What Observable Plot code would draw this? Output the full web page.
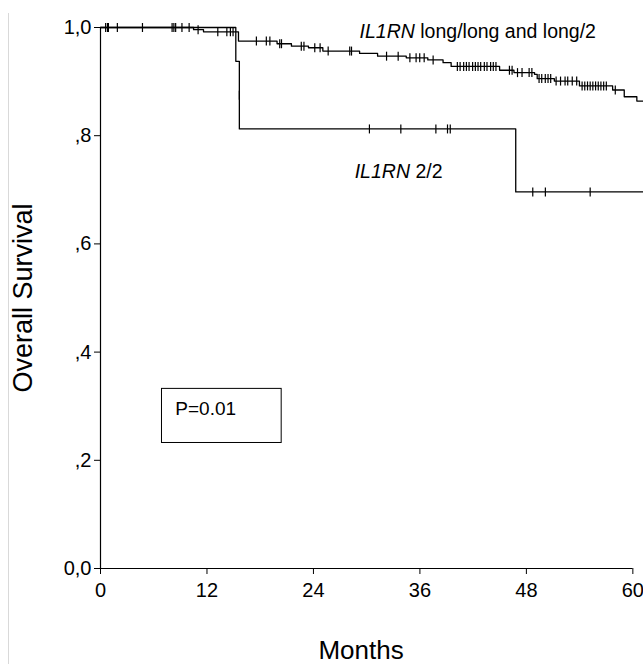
<!DOCTYPE html>
<html><head><meta charset="utf-8">
<script src="https://cdn.jsdelivr.net/npm/d3@7"></script>
<script src="https://cdn.jsdelivr.net/npm/@observablehq/plot@0.6"></script>
<style>
body{margin:0;background:#fff;}
#wrap{position:relative;width:643px;height:664px;overflow:hidden;background:#fff;}
#edge{position:absolute;left:8px;top:13px;width:1px;height:651px;background:#d9d9d9;}
#wrap svg{position:absolute;left:0;top:0;}
</style></head><body><div id="wrap"><div id="edge"></div></div>
<script>
// Axis ticks
const monthTicks = [0, 12, 24, 36, 48, 60];
const survivalTicks = [0, 0.2, 0.4, 0.6, 0.8, 1.0];
const survivalTickLabels = ["0,0", ",2", ",4", ",6", ",8", "1,0"];

// IL1RN long/long and long/2 : step curve
const longMonths   = [0, 10.49, 11.61, 15.55, 19.90, 21.52, 23.44, 25.06, 29.20, 31.23, 34.46, 36.89, 38.61, 39.52, 44.98, 46.60, 48.92, 49.22, 51.15, 53.98, 57.72, 59.03, 60.45, 61.2];
const longSurvival = [1, 0.996, 0.992, 0.975, 0.970, 0.9655, 0.9626, 0.9564, 0.952, 0.947, 0.944, 0.940, 0.935, 0.928, 0.921, 0.9166, 0.9134, 0.9055, 0.901, 0.892, 0.8845, 0.872, 0.864, 0.864];
// censored observations
const longCensorMonths = [0.58, 0.79, 0.89, 1.90, 4.73, 8.07, 8.27, 8.47, 9.18, 9.99,
  11.00, 13.22, 14.24, 14.64, 14.94, 17.57, 18.69, 19.09, 20.20, 20.40, 22.63, 22.93, 24.15, 24.75,
  25.66, 28.09, 28.29, 32.24, 33.55, 34.87, 35.57, 35.98, 36.48, 37.49,
  40.22, 40.53, 40.93, 41.24, 41.54, 41.94, 42.25, 42.55, 42.85, 43.26, 43.56, 43.97, 44.27, 44.57,
  46.09, 46.39, 47.00, 47.51, 48.31, 48.62, 49.43, 49.73, 50.13, 50.44, 50.74,
  51.35, 51.85, 52.36, 52.66, 53.17, 53.67, 54.28, 54.58, 54.89, 55.19, 55.49, 55.80, 56.10, 56.40, 56.71, 57.01, 58.02];
const longCensorSurvival = [1, 1, 1, 1, 1, 1, 1, 1, 1, 1,
  0.996, 0.992, 0.992, 0.992, 0.992, 0.975, 0.975, 0.975, 0.970, 0.970, 0.9655, 0.9655, 0.9626, 0.9626,
  0.9564, 0.9564, 0.9564, 0.947, 0.947, 0.944, 0.944, 0.944, 0.944, 0.940,
  0.928, 0.928, 0.928, 0.928, 0.928, 0.928, 0.928, 0.928, 0.928, 0.928, 0.928, 0.928, 0.928, 0.928,
  0.921, 0.921, 0.9166, 0.9166, 0.9166, 0.9166, 0.9055, 0.9055, 0.9055, 0.9055, 0.9055,
  0.901, 0.901, 0.901, 0.901, 0.901, 0.901, 0.892, 0.892, 0.892, 0.892, 0.892, 0.892, 0.892, 0.892, 0.892, 0.892, 0.8845];

// IL1RN 2/2 : step curve
const homoMonths   = [0, 15.25, 15.65, 15.65, 46.80, 61.2];
const homoSurvival = [1, 0.9375, 0.875, 0.8125, 0.696, 0.696];
const homoCensorMonths   = [15.65, 30.31, 33.85, 37.80, 39.11, 39.42, 48.72, 50.14, 55.19];
const homoCensorSurvival = [0.875, 0.8125, 0.8125, 0.8125, 0.8125, 0.8125, 0.696, 0.696, 0.696];

// Annotation texts
const labelTexts = ["IL1RN long/long and long/2", "IL1RN 2/2"];
const pValueText = "P=0.01";

// annotation placement (data units)
const labelPlace = [{m: 29.2, s: 0.9926}, {m: 28.65, s: 0.734}];
const pBox = {x1: 6.93, x2: 20.42, y1: 0.232, y2: 0.332, tx: 8.43, ty: 0.2955};

const rows = (ms, ss) => ms.map((m, i) => ({m, s: ss[i]}));
const longCurve = rows(longMonths, longSurvival);
const homoCurve = rows(homoMonths, homoSurvival);
const longCens = rows(longCensorMonths, longCensorSurvival);
const homoCens = rows(homoCensorMonths, homoCensorSurvival);
const labels = labelTexts.map((t, i) => ({t, ...labelPlace[i]}));

const vtick = {draw(ctx, size) { const h = Math.sqrt(size / Math.PI); ctx.moveTo(0, -h); ctx.lineTo(0, h); }};

const chart = Plot.plot({
  width: 643, height: 664,
  marginLeft: 100, marginRight: 0, marginTop: 27, marginBottom: 96,
  style: {fontFamily: "'Liberation Sans', Arial, sans-serif", fontSize: "20px", color: "#000", background: "transparent"},
  x: {domain: [0, 61.2], ticks: monthTicks, tickSize: 6, tickPadding: 8, tickFormat: d => String(d), label: null},
  y: {domain: [0, 1], ticks: survivalTicks, tickSize: 6, tickPadding: 3,
      tickFormat: d => survivalTickLabels[survivalTicks.findIndex(v => Math.abs(v - d) < 1e-9)], label: null},
  marks: [
    Plot.ruleY([0], {x1: 0, x2: 60, stroke: "#000", strokeWidth: 1.2}),
    Plot.ruleX([0], {y1: 0, y2: 1, stroke: "#000", strokeWidth: 1.2}),
    Plot.line(longCurve, {x: "m", y: "s", curve: "step-after", stroke: "#000", strokeWidth: 1.3}),
    Plot.line(homoCurve, {x: "m", y: "s", curve: "step-after", stroke: "#000", strokeWidth: 1.3}),
    Plot.dot(longCens, {x: "m", y: "s", symbol: vtick, r: 4.5, stroke: "#000", fill: "none", strokeWidth: 1.2}),
    Plot.dot(homoCens, {x: "m", y: "s", symbol: vtick, r: 4.5, stroke: "#000", fill: "none", strokeWidth: 1.2}),
    Plot.text(labels, {x: "m", y: "s", text: "t", textAnchor: "start", fontSize: 19.5, fill: "#000"}),
    Plot.rect([pBox], {x1: "x1", x2: "x2", y1: "y1", y2: "y2", stroke: "#000", fill: "none", strokeWidth: 1}),
    Plot.text([pBox], {x: "tx", y: "ty", text: () => pValueText, textAnchor: "start", fontSize: 19, fill: "#000"}),
    Plot.text(["Months"], {frameAnchor: "bottom", dx: -11, dy: 82, text: d => d, textAnchor: "middle", lineAnchor: "middle", fontSize: 26, fill: "#000"}),
    Plot.text(["Overall Survival"], {frameAnchor: "left", dx: -77, text: d => d, rotate: -90, textAnchor: "middle", lineAnchor: "middle", fontSize: 27, fill: "#000"})
  ]
});

// italicise gene symbol
chart.querySelectorAll("text").forEach(t => {
  const s = t.textContent;
  if (s.startsWith("IL1RN") && t.children.length === 0) {
    t.textContent = "";
    const ns = "http://www.w3.org/2000/svg";
    const a = document.createElementNS(ns, "tspan");
    a.setAttribute("font-style", "italic");
    a.textContent = "IL1RN";
    const b = document.createElementNS(ns, "tspan");
    b.textContent = s.slice(5);
    t.setAttribute("xml:space", "preserve");
    t.appendChild(a); t.appendChild(b);
  }
});
document.getElementById("wrap").appendChild(chart);
</script>
</body></html>
